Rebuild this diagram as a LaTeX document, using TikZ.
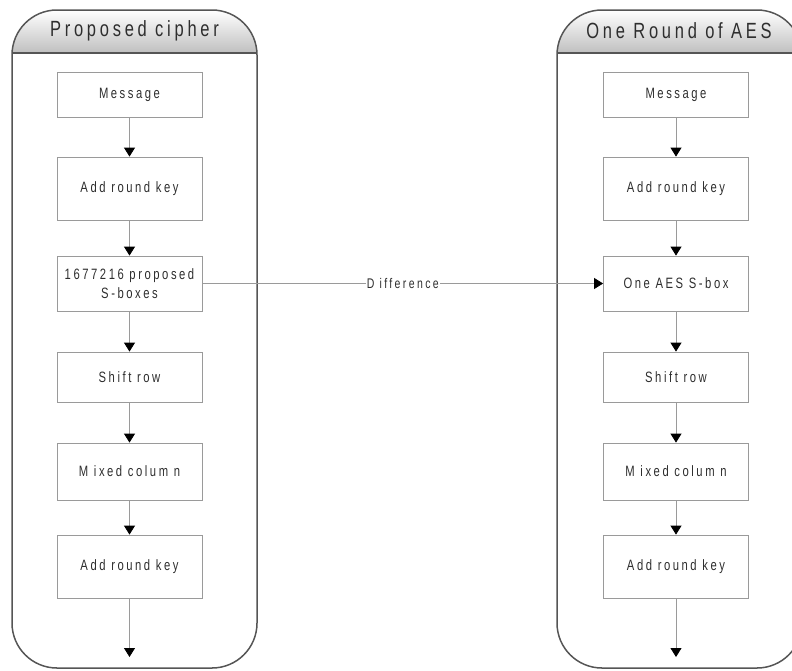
\documentclass[tikz,border=0pt]{standalone}
\usepackage{fontspec}
\setmainfont{Liberation Sans}
\newfontfamily\ciphfont[FakeStretch=0.75,LetterSpace=17]{Liberation Sans}
\usetikzlibrary{arrows.meta}
\definecolor{boxgray}{HTML}{9A9A9A}
\definecolor{textgray}{HTML}{2E2E2E}
\definecolor{panelgray}{HTML}{555555}
\begin{document}
\begin{tikzpicture}[x=1pt,y=-1pt,
  stage/.style={draw=boxgray, line width=0.8pt, minimum width=145pt, inner sep=2pt, text=textgray, align=center, font=\ciphfont\fontsize{15}{19}\selectfont},
  flow/.style={draw=boxgray, line width=0.8pt, -{Triangle[width=11pt,length=9pt,color=black]}},
  panel/.style={draw=panelgray, line width=1.5pt, rounded corners=45pt},
  title/.style={text=textgray, font=\ciphfont\fontsize{22}{24}\selectfont}]
\useasboundingbox (0,0) rectangle (792,670);
% panels
\begin{scope}
\clip[rounded corners=45pt] (12,10) rectangle (257,300);
\shade[top color=white, bottom color=gray!50] (12,10) rectangle (257,53);
\end{scope}
\begin{scope}
\clip[rounded corners=45pt] (557,10) rectangle (802,300);
\shade[top color=white, bottom color=gray!50] (557,10) rectangle (802,53);
\end{scope}
\draw[panel] (12,10) rectangle (257,668);
\draw[panel] (557,10) rectangle (802,668);
\draw[draw=panelgray, line width=1.5pt] (12,53) -- (257,53);
\draw[draw=panelgray, line width=1.5pt] (557,53) -- (802,53);
\node[title] (hleft) at (134.5,31) {Proposed cipher};
\node[title] (hright) at (679,31) {One Round of AES};
% proposed cipher
\node[stage, minimum height=45pt] (pmsg) at (129.5,94.5) {Message};
\node[stage, minimum height=63pt] (pkey1) at (129.5,188.5) {Add round key};
\node[stage, minimum height=55pt] (psbox) at (129.5,283.5) {1677216 proposed\\S-boxes};
\node[stage, minimum height=50pt] (pshift) at (129.5,377) {Shift row};
\node[stage, minimum height=57pt] (pmix) at (129.5,471.5) {M ixed colum n};
\node[stage, minimum height=63pt] (pkey2) at (129.5,566.5) {Add round key};
\coordinate (pend) at (129.5,657);
\draw[flow] (pmsg) -- (pkey1);
\draw[flow] (pkey1) -- (psbox);
\draw[flow] (psbox) -- (pshift);
\draw[flow] (pshift) -- (pmix);
\draw[flow] (pmix) -- (pkey2);
\draw[flow] (pkey2) -- (pend);
% one round of AES
\node[stage, minimum height=45pt] (amsg) at (676,94.5) {Message};
\node[stage, minimum height=63pt] (akey1) at (676,188.5) {Add round key};
\node[stage, minimum height=55pt] (asbox) at (676,283.5) {One AES S-box};
\node[stage, minimum height=50pt] (ashift) at (676,377) {Shift row};
\node[stage, minimum height=57pt] (amix) at (676,471.5) {M ixed colum n};
\node[stage, minimum height=63pt] (akey2) at (676,566.5) {Add round key};
\coordinate (aend) at (676,657);
\draw[flow] (amsg) -- (akey1);
\draw[flow] (akey1) -- (asbox);
\draw[flow] (asbox) -- (ashift);
\draw[flow] (ashift) -- (amix);
\draw[flow] (amix) -- (akey2);
\draw[flow] (akey2) -- (aend);
% difference
\draw[flow] (psbox) -- node[fill=white, inner sep=1pt, text=textgray, font=\ciphfont\fontsize{14}{16}\selectfont] (diff) {D ifference} (asbox);
\end{tikzpicture}
\end{document}
